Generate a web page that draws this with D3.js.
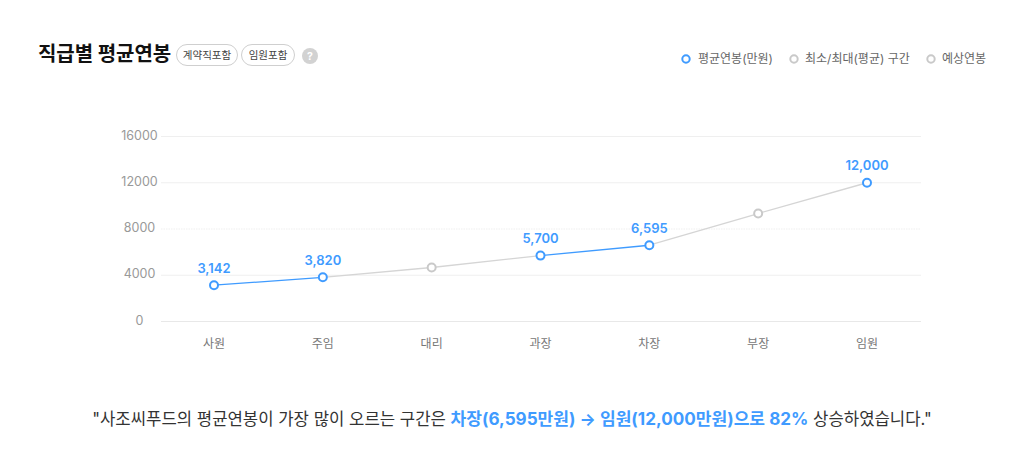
<!DOCTYPE html>
<html lang="ko"><head><meta charset="utf-8">
<script src="https://cdn.jsdelivr.net/npm/d3@7"></script>
<style>
html,body{margin:0;padding:0;background:#fff;overflow:hidden}
svg{display:block}
text{font-family:Inter,"Noto Sans CJK KR",sans-serif}
</style></head><body><svg id="c" width="1024" height="469"></svg>
<script>
const categories=["사원","주임","대리","과장","차장","부장","임원"];
const salaries=[3142,3820,4670,5700,6595,9340,12000];
const reported=[true,true,false,true,true,false,true];
const yTicks=[0,4000,8000,12000,16000];
const legendItems=["평균연봉(만원)","최소/최대(평균) 구간","예상연봉"];
const badges=["계약직포함","임원포함"];
const titleText="직급별 평균연봉";
const captionParts=[["\"사조씨푸드의 평균연봉이 가장 많이 오르는 구간은 ",0],["차장(6,595만원) → 임원(12,000만원)으로 82%",1],[" 상승하였습니다.\"",0]];

const BLUE="#3f9bff",GRAY="#c9c9c9";
const svg=d3.select("#c");
const x=d3.scalePoint().domain(categories).range([214,867]);
const y=d3.scaleLinear().domain([0,16000]).range([321,136]);

// grid
svg.append("g").selectAll("line").data(yTicks).join("line")
 .attr("x1",161).attr("x2",921).attr("y1",d=>y(d)+.5).attr("y2",d=>y(d)+.5)
 .attr("stroke",d=>d===0?"#e8e8e8":"#efefef").attr("stroke-width",1)
 .attr("stroke-dasharray",d=>d===8000?"1.5 1":null);

// y axis labels
svg.append("g").selectAll("text").data(yTicks).join("text")
 .attr("x",139.5).attr("y",d=>y(d)+3.5).attr("text-anchor","middle")
 .attr("font-size",12.5).attr("fill","#999").text(d=>d);
// x axis labels
svg.append("g").selectAll("text").data(categories).join("text")
 .attr("x",d=>x(d)).attr("y",348).attr("text-anchor","middle")
 .attr("font-size",12).attr("fill","#777").text(d=>d);

// segments
const segs=d3.pairs(categories.map((c,i)=>({c,v:salaries[i],r:reported[i]})));
svg.append("g").selectAll("line").data(segs).join("line")
 .attr("x1",d=>x(d[0].c)).attr("y1",d=>y(d[0].v)+.5)
 .attr("x2",d=>x(d[1].c)).attr("y2",d=>y(d[1].v)+.5)
 .attr("stroke",d=>(d[0].r&&d[1].r&&d[1].c!=="임원")?BLUE:"#d5d5d5")
 .attr("stroke-width",1.3);

// points
svg.append("g").selectAll("circle").data(categories).join("circle")
 .attr("cx",d=>x(d)).attr("cy",(d,i)=>y(salaries[i])+.5).attr("r",4)
 .attr("fill","#fff").attr("stroke",(d,i)=>reported[i]?BLUE:GRAY).attr("stroke-width",2);

// value labels
svg.append("g").selectAll("text").data(categories.filter((d,i)=>reported[i])).join("text")
 .attr("x",d=>x(d)).attr("y",d=>y(salaries[categories.indexOf(d)])-12)
 .attr("text-anchor","middle").attr("font-size",13).attr("font-weight",600).attr("fill",BLUE)
 .text(d=>d3.format(",")(salaries[categories.indexOf(d)]));

// title
svg.append("text").attr("x",38).attr("y",61).attr("font-size",20).attr("font-weight",700)
 .attr("fill","#111").attr("letter-spacing",-.05).text(titleText);

// badges
const badgeBox=[[176,62],[241,54]];
const bg=svg.append("g").selectAll("g").data(badges).join("g");
bg.append("rect").attr("x",(d,i)=>badgeBox[i][0]+.5).attr("y",44.5)
 .attr("width",(d,i)=>badgeBox[i][1]-1).attr("height",21).attr("rx",10.5)
 .attr("fill","#fff").attr("stroke","#cfcfcf");
bg.append("text").attr("x",(d,i)=>badgeBox[i][0]+badgeBox[i][1]/2).attr("y",59)
 .attr("text-anchor","middle").attr("font-size",10.5).attr("fill","#444").text(d=>d);

// help
svg.append("circle").attr("cx",310).attr("cy",56).attr("r",8).attr("fill","#d2d2d2");
svg.append("text").attr("x",310).attr("y",60).attr("text-anchor","middle")
 .attr("font-size",10.5).attr("font-weight",700).attr("fill","#fff").text("?");

// legend
const legX=[[686,698],[794,805],[931,942]];
const lg=svg.append("g").selectAll("g").data(legendItems).join("g");
lg.append("circle").attr("cx",(d,i)=>legX[i][0]).attr("cy",59).attr("r",3.7).attr("fill","#fff")
 .attr("stroke",(d,i)=>i===0?BLUE:GRAY).attr("stroke-width",2);
lg.append("text").attr("x",(d,i)=>legX[i][1]).attr("y",63).attr("font-size",12)
 .attr("fill","#666").text(d=>d);

// caption
const cap=svg.append("text").attr("x",512).attr("y",425).attr("text-anchor","middle")
 .attr("fill","#333");
cap.selectAll("tspan").data(captionParts).join("tspan")
 .attr("font-size",d=>d[1]?17.1:16.7)
 .attr("font-weight",d=>d[1]?700:400).attr("fill",d=>d[1]?BLUE:"#333")
 .style("white-space","pre").text(d=>d[0]);
</script></body></html>
